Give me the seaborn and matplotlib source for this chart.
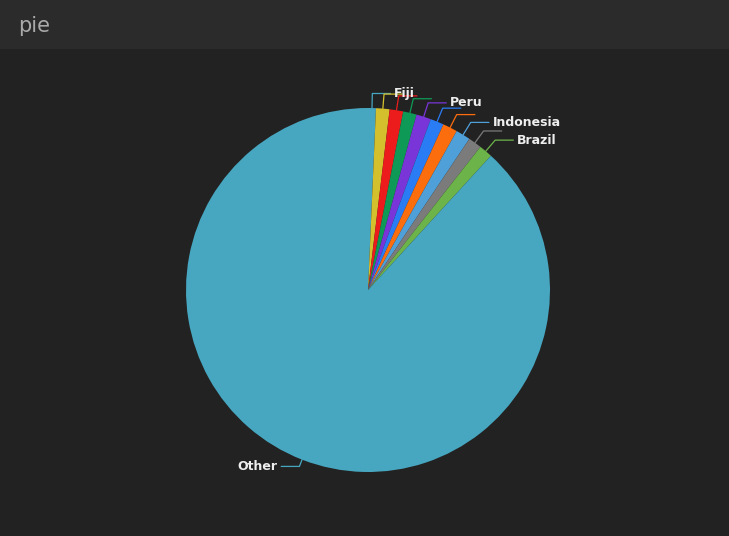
import numpy as np
import matplotlib
matplotlib.use("Agg")
import matplotlib.pyplot as plt
import seaborn as sns

labels = ["Fiji", "", "", "", "Peru", "", "", "Indonesia", "", "Brazil", "Other"]
values = [0.7, 1.2, 1.2, 1.2, 1.3, 1.2, 1.3, 1.3, 1.2, 1.2, 88.2]
colors = ["#47a7c1", "#d4c02c", "#ec1c1c", "#0e9a56", "#7a35d9", "#2a7cf4",
          "#fb6d0d", "#4f9fd9", "#7b7b7b", "#6cb44a", "#47a7c1"]

sns.set_theme(style="dark")
fig = plt.figure(figsize=(7.29, 5.36), dpi=100, facecolor="#222222")
r_px = 182
ax = fig.add_axes([(368 - r_px) / 729, (536 - 290 - r_px) / 536, 2 * r_px / 729, 2 * r_px / 536])
ax.set_facecolor("#222222")
wedges, _ = ax.pie(values, colors=colors, startangle=90, counterclock=False,
                   wedgeprops={"linewidth": 0}, radius=1)
ax.set_xlim(-1, 1)
ax.set_ylim(-1, 1)
ax.set_aspect("equal")
ax.axis("off")

for w, lab, col in zip(wedges, labels, colors):
    ang = np.deg2rad((w.theta1 + w.theta2) / 2)
    x0, y0 = np.cos(ang), np.sin(ang)
    r2 = 1.08 if lab != "Other" else 1.04
    x1, y1 = r2 * x0, r2 * y0
    sign = 1 if x0 >= 0 else -1
    x2 = x1 + sign * 0.1
    ax.plot([x0, x1, x2], [y0, y1, y1], color=col, lw=0.9, clip_on=False)
    if lab:
        ax.text(x2 + sign * 0.02, y1, lab, color="#eeeeee", fontsize=9, fontweight="bold",
                ha="left" if sign > 0 else "right", va="center", clip_on=False)

fig.patches.append(plt.Rectangle((0, 1 - 48 / 536), 1, 48 / 536, transform=fig.transFigure,
                                 color="#2b2b2b", zorder=0))
fig.text(18 / 729, 1 - 26 / 536, "pie", color="#aaaaaa", fontsize=15, va="center")
fig.savefig("out.png", dpi=100, facecolor=fig.get_facecolor())
